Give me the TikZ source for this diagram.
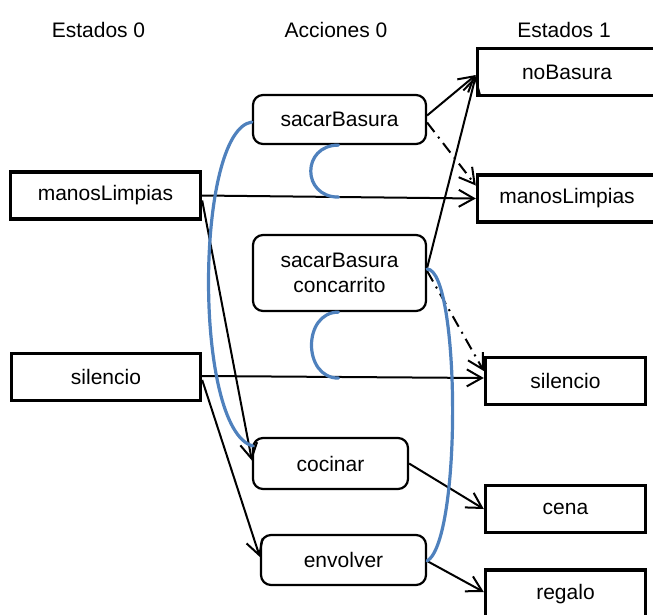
\documentclass[tikz,border=0pt]{standalone}
\usepackage{fontspec}
\setmainfont{Liberation Sans}
\usetikzlibrary{arrows.meta,calc}

\definecolor{linkblue}{RGB}{79,129,189}

\tikzset{
  txt/.style={font=\fontsize{21}{24.5}\selectfont, inner sep=0pt, align=center},
  statebox/.style={txt, draw, line width=3.4pt, minimum height=47pt},
  actbox/.style={txt, draw, line width=2.2pt, rounded corners=10pt},
  link/.style={line width=2pt, -{Straight Barb[length=15pt,width=17pt,line width=2pt]}},
  dashdot/.style={link, dash pattern=on 12pt off 6pt on 2pt off 6pt},
  mutex/.style={draw=linkblue, line width=3.2pt, line cap=round}
}

\begin{document}
\begin{tikzpicture}[x=1pt,y=-1pt]
  \useasboundingbox (0,0) rectangle (653,614);

  % column headings
  \node[txt] (h0) at (98.5,30) {Estados 0};
  \node[txt] (h1) at (336,30) {Acciones 0};
  \node[txt] (h2) at (564,30) {Estados 1};

  % states at level 0
  \node[statebox, minimum width=190pt] (l1) at (105.5,195.5) {manosLimpias};
  \node[statebox, minimum width=189pt] (l2) at (106,377) {silencio};

  % actions at level 0
  \node[actbox, minimum width=173pt, minimum height=49pt] (a1) at (339.5,119.5) {sacarBasura};
  \node[actbox, minimum width=173pt, minimum height=76pt] (a2) at (339.5,273) {sacarBasura\\concarrito};
  \node[actbox, minimum width=155pt, minimum height=51pt] (a3) at (330.5,463.5) {cocinar};
  \node[actbox, minimum width=165pt, minimum height=50pt] (a4) at (343.5,560) {envolver};

  % states at level 1
  \node[statebox, minimum width=179pt] (r1) at (567,72) {noBasura};
  \node[statebox, minimum width=179pt] (r2) at (567,198.5) {manosLimpias};
  \node[statebox, minimum width=160pt] (r3) at (565.5,381) {silencio};
  \node[statebox, minimum width=160pt] (r4) at (565.5,509) {cena};
  % this box runs past the lower edge of the page
  \node[statebox, minimum width=160pt, minimum height=0pt, text height=29pt, text depth=35pt, anchor=base] (r5) at (565.5,599) {regalo};

  % preconditions and persistence
  \draw[link] (l1.east) -- (r2.west);
  \draw[link] ($(l1.east)+(0,5)$) -- ($(a3.west)+(0,-3)$);
  \draw[link] ($(l2.east)+(0,-1)$) -- ($(r3.west)+(0,-3)$);
  \draw[link] ($(l2.east)+(0,3)$) -- ($(a4.west)+(0,-3)$);

  % effects
  \draw[link] ($(a1.east)+(0,-4)$) -- ($(r1.west)+(0,3)$);
  \draw[link] ($(a2.east)+(0,-5)$) -- ($(r1.west)+(0,4)$);
  \draw[link] (a3.east) -- (r4.west);
  \draw[link] ($(a4.east)+(0,1)$) -- ($(r5.west)+(0,-10)$);

  % negated effects
  \draw[dashdot] ($(a1.east)+(0,3)$) -- ($(r2.west)+(0,-13)$);
  \draw[dashdot] ($(a2.east)+(0,-2)$) -- ($(r3.west)+(0,-10)$);

  % mutual exclusion links
  \draw[mutex] ($(a1.west)+(0,2.5)$) .. controls +(-57,8) and +(-60,-16) .. ($(a3.west)+(1,-17.5)$);
  \draw[mutex] ($(a2.east)+(0,-4)$) .. controls +(33,1) and +(35,-21) .. ($(a4.east)+(0,1)$);
  \draw[mutex] ($(a1.south)+(-1,0)$) .. controls +(-37,0) and +(-37,0) .. ($(a1.south)+(-1,52)$);
  \draw[mutex] ($(a2.south)+(-1,0)$) .. controls +(-36,0) and +(-36,0) .. ($(a2.south)+(-1,66)$);
\end{tikzpicture}
\end{document}
